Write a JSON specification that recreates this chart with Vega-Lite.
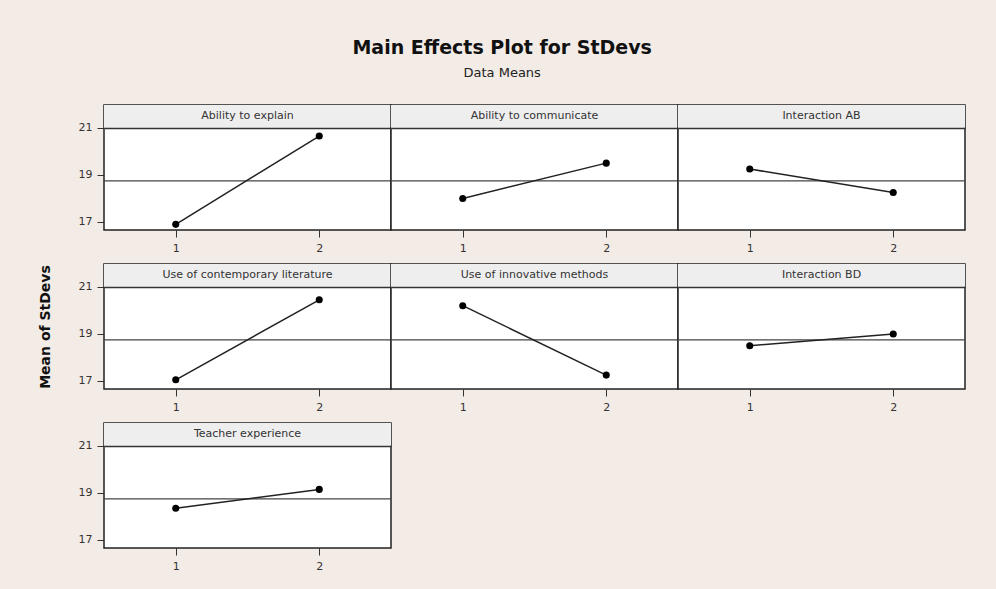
{
  "$schema": "https://vega.github.io/schema/vega-lite/v6.json",
  "background": "#f3ebe5",
  "padding": {"left": 38, "top": 39, "right": 31, "bottom": 18},
  "title": {
    "text": "Main Effects Plot for StDevs",
    "subtitle": "Data Means",
    "font": "DejaVu Sans",
    "fontSize": 19,
    "fontWeight": "bold",
    "color": "#111",
    "subtitleFont": "DejaVu Sans",
    "subtitleFontSize": 13,
    "subtitleColor": "#222",
    "subtitlePadding": 9,
    "anchor": "middle",
    "frame": "bounds",
    "offset": 24
  },
  "data": {
    "values": [
      {"order": 1, "factor": "Ability to explain", "level": 1, "mean": 16.9, "grandMean": 18.75},
      {"order": 1, "factor": "Ability to explain", "level": 2, "mean": 20.65, "grandMean": 18.75},
      {"order": 2, "factor": "Ability to communicate", "level": 1, "mean": 18.0, "grandMean": 18.75},
      {"order": 2, "factor": "Ability to communicate", "level": 2, "mean": 19.5, "grandMean": 18.75},
      {"order": 3, "factor": "Interaction AB", "level": 1, "mean": 19.25, "grandMean": 18.75},
      {"order": 3, "factor": "Interaction AB", "level": 2, "mean": 18.25, "grandMean": 18.75},
      {"order": 4, "factor": "Use of contemporary literature", "level": 1, "mean": 17.05, "grandMean": 18.75},
      {"order": 4, "factor": "Use of contemporary literature", "level": 2, "mean": 20.45, "grandMean": 18.75},
      {"order": 5, "factor": "Use of innovative methods", "level": 1, "mean": 20.2, "grandMean": 18.75},
      {"order": 5, "factor": "Use of innovative methods", "level": 2, "mean": 17.25, "grandMean": 18.75},
      {"order": 6, "factor": "Interaction BD", "level": 1, "mean": 18.5, "grandMean": 18.75},
      {"order": 6, "factor": "Interaction BD", "level": 2, "mean": 19.0, "grandMean": 18.75},
      {"order": 7, "factor": "Teacher experience", "level": 1, "mean": 18.35, "grandMean": 18.75},
      {"order": 7, "factor": "Teacher experience", "level": 2, "mean": 19.15, "grandMean": 18.75}
    ]
  },
  "spacing": 10,
  "vconcat": [
    {
      "transform": [{"filter": "datum.order <= 3"}],
      "facet": {"column": {"field": "factor", "type": "nominal", "sort": {"field": "order"}, "header": null}},
      "spacing": 0,
      "bounds": "flush",
      "spec": {
        "width": 287,
        "height": 125,
        "encoding": {
          "x": {
            "field": "level", "type": "quantitative",
            "scale": {"domain": [0.5, 2.5], "nice": false, "zero": false},
            "axis": {"values": [1, 2], "format": "d", "title": null, "grid": false}
          },
          "y": {
            "field": "mean", "type": "quantitative",
            "scale": {"domain": [16.66, 21.97], "nice": false, "zero": false},
            "axis": {
              "values": [17, 19, 21], "title": "Mean of StDevs", "titleOpacity": 0, "grid": true,
              "gridColor": {"condition": {"test": "datum.value === 21", "value": "#333"}, "value": "transparent"},
              "gridWidth": 1.5, "zindex": 1
            }
          }
        },
        "layer": [
          {"transform": [{"filter": "datum.level == 1"}], "mark": {"type": "rect", "fill": "#eeeeee", "clip": true}, "encoding": {"x": null, "y": {"datum": 21}, "y2": {"datum": 22}}},
          {"mark": {"type": "rule", "color": "#444", "strokeWidth": 1.2}, "encoding": {"x": null, "y": {"field": "grandMean", "aggregate": "mean", "type": "quantitative"}}},
          {"mark": {"type": "line", "color": "#222", "strokeWidth": 1.5}},
          {"mark": {"type": "point", "filled": true, "color": "#000", "size": 50, "opacity": 1}},
          {"transform": [{"filter": "datum.level == 1"}], "mark": {"type": "text", "font": "DejaVu Sans", "fontSize": 11, "color": "#333"}, "encoding": {"x": {"datum": 1.5}, "y": {"datum": 21.5}, "text": {"field": "factor"}}}
        ]
      }
    },
    {
      "transform": [{"filter": "datum.order >= 4 && datum.order <= 6"}],
      "facet": {"column": {"field": "factor", "type": "nominal", "sort": {"field": "order"}, "header": null}},
      "spacing": 0,
      "bounds": "flush",
      "spec": {
        "width": 287,
        "height": 125,
        "encoding": {
          "x": {
            "field": "level", "type": "quantitative",
            "scale": {"domain": [0.5, 2.5], "nice": false, "zero": false},
            "axis": {"values": [1, 2], "format": "d", "title": null, "grid": false}
          },
          "y": {
            "field": "mean", "type": "quantitative",
            "scale": {"domain": [16.66, 21.97], "nice": false, "zero": false},
            "axis": {
              "values": [17, 19, 21], "title": "Mean of StDevs", "grid": true,
              "gridColor": {"condition": {"test": "datum.value === 21", "value": "#333"}, "value": "transparent"},
              "gridWidth": 1.5, "zindex": 1
            }
          }
        },
        "layer": [
          {"transform": [{"filter": "datum.level == 1"}], "mark": {"type": "rect", "fill": "#eeeeee", "clip": true}, "encoding": {"x": null, "y": {"datum": 21}, "y2": {"datum": 22}}},
          {"mark": {"type": "rule", "color": "#444", "strokeWidth": 1.2}, "encoding": {"x": null, "y": {"field": "grandMean", "aggregate": "mean", "type": "quantitative"}}},
          {"mark": {"type": "line", "color": "#222", "strokeWidth": 1.5}},
          {"mark": {"type": "point", "filled": true, "color": "#000", "size": 50, "opacity": 1}},
          {"transform": [{"filter": "datum.level == 1"}], "mark": {"type": "text", "font": "DejaVu Sans", "fontSize": 11, "color": "#333"}, "encoding": {"x": {"datum": 1.5}, "y": {"datum": 21.5}, "text": {"field": "factor"}}}
        ]
      }
    },
    {
      "transform": [{"filter": "datum.order == 7"}],
      "facet": {"column": {"field": "factor", "type": "nominal", "sort": {"field": "order"}, "header": null}},
      "spacing": 0,
      "bounds": "flush",
      "spec": {
        "width": 287,
        "height": 125,
        "encoding": {
          "x": {
            "field": "level", "type": "quantitative",
            "scale": {"domain": [0.5, 2.5], "nice": false, "zero": false},
            "axis": {"values": [1, 2], "format": "d", "title": null, "grid": false}
          },
          "y": {
            "field": "mean", "type": "quantitative",
            "scale": {"domain": [16.66, 21.97], "nice": false, "zero": false},
            "axis": {
              "values": [17, 19, 21], "title": "Mean of StDevs", "titleOpacity": 0, "grid": true,
              "gridColor": {"condition": {"test": "datum.value === 21", "value": "#333"}, "value": "transparent"},
              "gridWidth": 1.5, "zindex": 1
            }
          }
        },
        "layer": [
          {"transform": [{"filter": "datum.level == 1"}], "mark": {"type": "rect", "fill": "#eeeeee", "clip": true}, "encoding": {"x": null, "y": {"datum": 21}, "y2": {"datum": 22}}},
          {"mark": {"type": "rule", "color": "#444", "strokeWidth": 1.2}, "encoding": {"x": null, "y": {"field": "grandMean", "aggregate": "mean", "type": "quantitative"}}},
          {"mark": {"type": "line", "color": "#222", "strokeWidth": 1.5}},
          {"mark": {"type": "point", "filled": true, "color": "#000", "size": 50, "opacity": 1}},
          {"transform": [{"filter": "datum.level == 1"}], "mark": {"type": "text", "font": "DejaVu Sans", "fontSize": 11, "color": "#333"}, "encoding": {"x": {"datum": 1.5}, "y": {"datum": 21.5}, "text": {"field": "factor"}}}
        ]
      }
    }
  ],
  "config": {
    "axis": {
      "labelFont": "DejaVu Sans",
      "labelFontSize": 11,
      "labelColor": "#333",
      "tickColor": "#333",
      "tickSize": 7,
      "labelPadding": 5,
      "domain": false,
      "titleFont": "DejaVu Sans",
      "titleFontSize": 14,
      "titleFontWeight": "bold",
      "titleColor": "#111",
      "titlePadding": 26
    },
    "view": {"stroke": "#222", "strokeWidth": 1.5, "fill": "white"}
  }
}
